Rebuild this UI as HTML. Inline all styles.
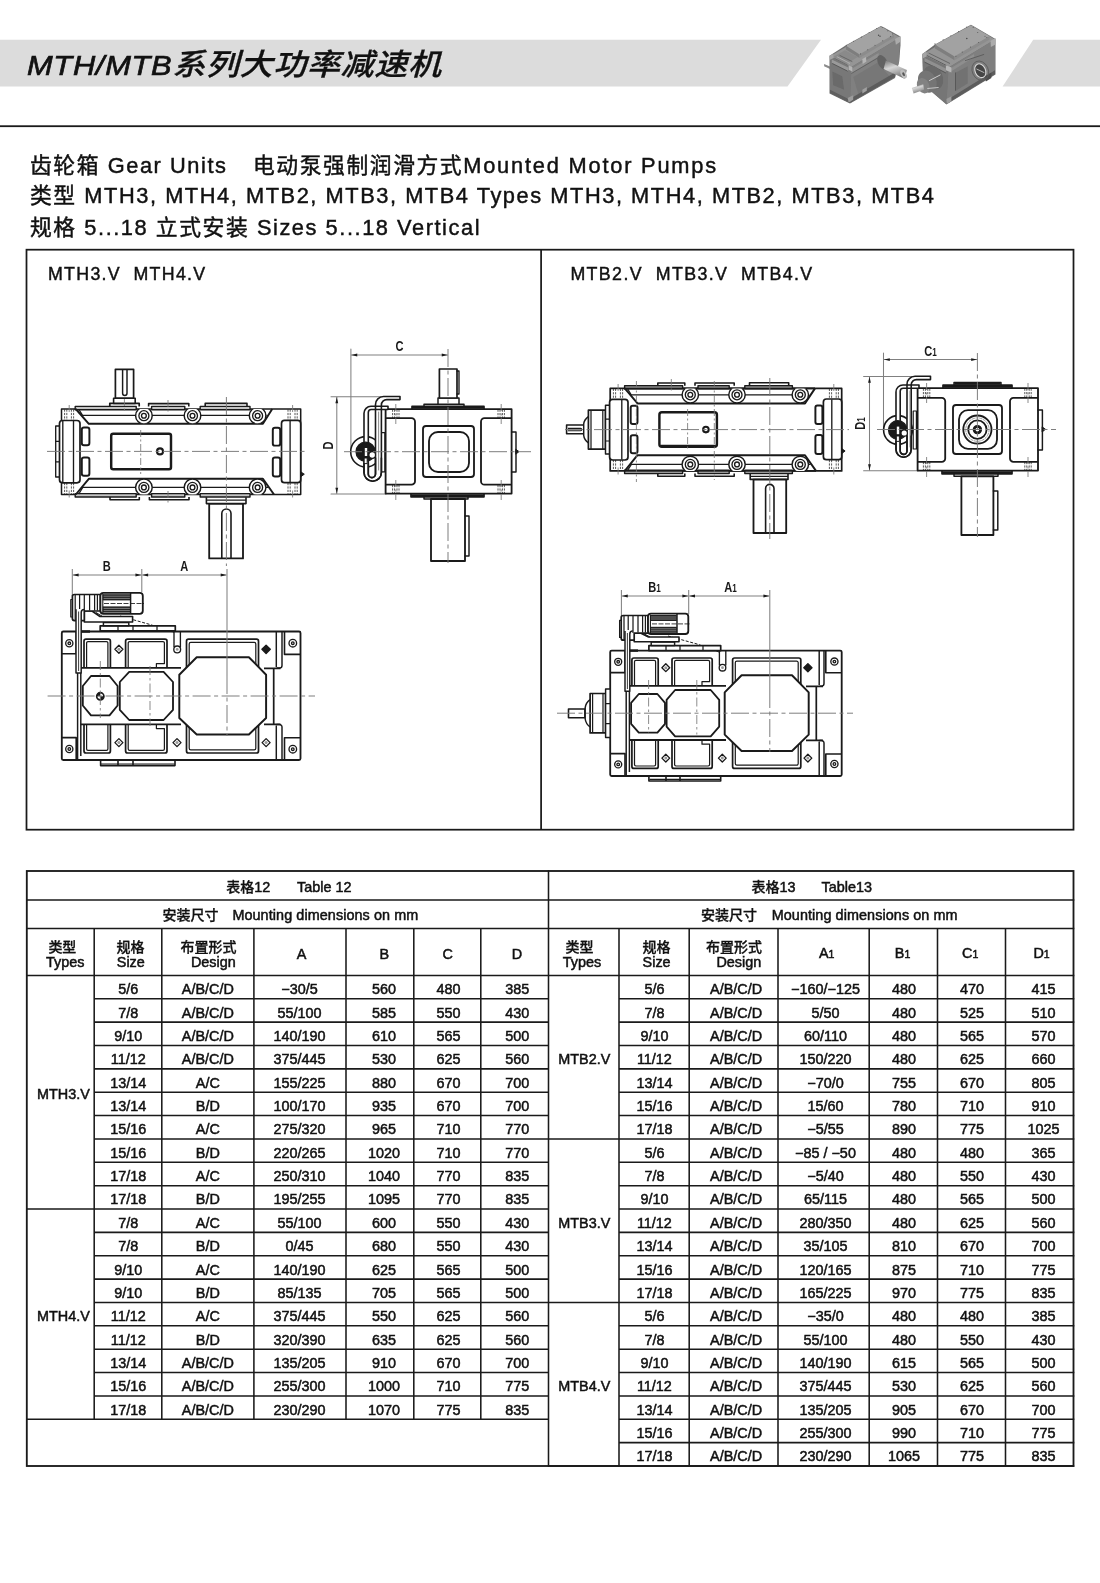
<!DOCTYPE html>
<html lang="zh"><head><meta charset="utf-8"><title>MTH/MTB系列大功率减速机</title>
<style>
html,body{margin:0;padding:0;background:#fff;}
body{width:1100px;height:1583px;overflow:hidden;font-family:"Liberation Sans","Noto Sans CJK SC",sans-serif;color:#1a1a1a;}
#page{position:relative;width:1100px;height:1583px;overflow:hidden;will-change:transform;}
.abs{position:absolute;white-space:pre;}
#band{position:absolute;left:0;top:0;}
#title{position:absolute;left:26.8px;top:43.6px;height:36px;line-height:36px;font-style:italic;white-space:pre;transform-origin:0 50%;transform:scaleX(1.1);color:#111;-webkit-text-stroke:0.7px #111;}
#title .la{font-size:28px;letter-spacing:0.65px;font-family:"Liberation Sans",sans-serif;}
#title .cj2{font-size:30px;letter-spacing:0.6px;font-family:"Noto Sans CJK SC",sans-serif;font-weight:500;-webkit-text-stroke:0.3px #111;position:relative;top:0.5px;}
.hl{position:absolute;left:30px;font-size:21.8px;line-height:30px;white-space:pre;color:#111;letter-spacing:1.56px;font-weight:400;-webkit-text-stroke:0.45px #111;}
#dwg{position:absolute;left:0;top:240px;overflow:visible;}
#dwg text{font-family:"Liberation Sans",sans-serif;fill:#1a1a1a;}
.t{position:absolute;font-size:14.4px;line-height:16px;white-space:pre;text-align:center;color:#111;font-family:"Liberation Sans","Noto Sans CJK SC",sans-serif;-webkit-text-stroke:0.5px #111;}
.ln{position:absolute;background:#1a1a1a;}
.cj{font-size:14px;font-weight:500;-webkit-text-stroke:0.3px #111;}
.lbl{position:absolute;top:263.5px;font-size:17.8px;line-height:20px;letter-spacing:1.3px;white-space:pre;font-family:"Liberation Sans",sans-serif;color:#111;-webkit-text-stroke:0.45px #111;}

</style></head>
<body>
<div id="page">
<svg id="band" width="1100" height="130" viewBox="0 0 1100 130">
<polygon points="0,39.7 821,39.7 787.5,86.4 0,86.4" fill="#dcdcdc"/>
<polygon points="1033.2,39.7 1100,39.7 1100,86.4 1002.6,86.4" fill="#dcdcdc"/>
<rect x="0" y="125.3" width="1100" height="1.8" fill="#1a1a1a"/>
</svg>
<div id="title"><span class="la">MTH/MTB</span><span class="cj2">系列大功率减速机</span></div>
<div class="hl" style="top:150.8px">齿轮箱 Gear Units   <span style="margin-left:2.7px">电动泵强制润滑方式</span><span style="letter-spacing:1.8px">Mounted Motor Pumps</span></div>
<div class="hl" style="top:181.4px">类型 MTH3, MTH4, MTB2, MTB3, MTB4 Types MTH3, MTH4, MTB2, MTB3, MTB4</div>
<div class="hl" style="top:212.8px">规格 5...18 立式安装 Sizes 5...18 Vertical</div>
<div class="lbl" style="left:48px">MTH3.V  MTH4.V</div>
<div class="lbl" style="left:570.4px;letter-spacing:1.4px">MTB2.V  MTB3.V  MTB4.V</div>
<svg id="gb" width="200" height="100" viewBox="815 15 200 100" style="position:absolute;left:815px;top:15px">
<defs><linearGradient id="sh1" x1="0.3" y1="0" x2="0.7" y2="1"><stop offset="0" stop-color="#8a8a8a"/><stop offset="0.35" stop-color="#d6d6d6"/><stop offset="0.6" stop-color="#b0b0b0"/><stop offset="1" stop-color="#6a6a6a"/></linearGradient><filter id="bl" x="-5%" y="-5%" width="110%" height="110%"><feGaussianBlur stdDeviation="0.4"/></filter></defs>
<g filter="url(#bl)">
<polygon points="824.1,63.9 830.0,66.6 830.0,68.9 824.1,66.2" fill="#8c8c8c" />
<polygon points="829.5,55.7 845.9,45.3 880.9,26.0 884.1,27.5 900.5,36.6 900.5,45.3 899.1,61.6 895.0,78.0 850.0,103.5 846.8,102.1 829.5,93.5" fill="#6f6f6f" />
<polygon points="830.0,56.2 880.9,26.6 900.0,37.5 851.4,67.1" fill="#959595" />
<polygon points="845.9,45.7 880.9,26.4 894.1,34.4 859.5,54.4" fill="#a3a3a3" />
<polygon points="845.9,45.7 859.5,54.4 859.5,58.0 845.9,49.4" fill="#7e7e7e" />
<polygon points="859.5,54.4 894.1,34.4 894.1,37.5 859.5,58.0" fill="#8c8c8c" />
<polygon points="833.2,57.1 845.0,50.3 857.7,57.1 846.4,63.9" fill="#8a8a8a" />
<path d="M834.5 58.5L847.7 65.3" stroke="#5c5c5c" stroke-width="0.9" fill="none"/>
<path d="M836.8 56.6L850.0 63.5" stroke="#b8b8b8" stroke-width="0.8" fill="none"/>
<path d="M839.5 55.3L852.3 61.6" stroke="#5c5c5c" stroke-width="0.8" fill="none"/>
<polygon points="830.0,56.2 851.4,67.1 850.0,103.0 830.0,93.0" fill="#787878" />
<polygon points="831.8,59.4 848.2,67.5 848.2,71.2 831.8,63.0" fill="#9a9a9a" />
<path d="M832.3 63.5L847.7 71.2" stroke="#555" stroke-width="0.9" fill="none"/>
<polygon points="832.3,71.6 842.3,76.2 844.1,89.8 833.2,85.3" fill="#6a6a6a" />
<polygon points="830.0,89.8 850.0,99.8 850.0,103.0 830.0,93.0" fill="#5e5e5e" />
<polygon points="851.4,67.1 900.0,37.5 899.1,61.6 895.0,77.1 850.0,103.0" fill="#808080" />
<polygon points="851.4,68.9 878.6,53.0 878.6,56.6 851.4,73.0" fill="#909090" />
<path d="M851.4 73.5L877.7 58.0" stroke="#5a5a5a" stroke-width="0.8" fill="none"/>
<polygon points="853.2,77.1 877.7,62.5 889.5,76.2 858.6,95.3" fill="#777" />
<polygon points="851.4,98.0 895.0,72.5 895.0,77.1 850.0,103.0" fill="#5c5c5c" />
<polygon points="862.3,89.8 866.8,87.1 866.8,90.7 862.3,93.5" fill="#a0a0a0" />
<polygon points="862.3,58.9 865.9,57.1 866.4,61.6 862.7,63.9" fill="#b5b5b5" />
<polygon points="848.6,65.3 852.3,67.1 852.3,71.6 848.6,69.8" fill="#b4b4b4" />
<polygon points="895.0,38.9 900.0,36.2 900.0,42.1 895.9,44.8" fill="#ababab" />
<polygon points="847.7,98.0 853.2,95.3 853.2,99.8 848.6,102.5" fill="#9c9c9c" />
<polygon points="829.5,55.7 833.2,53.9 833.6,58.0 830.0,59.8" fill="#a5a5a5" />
<circle cx="846.4" cy="45.3" r="0.55" fill="#5a5a5a"/><circle cx="853.6" cy="41.2" r="0.55" fill="#5a5a5a"/><circle cx="861.4" cy="37.1" r="0.55" fill="#5a5a5a"/><circle cx="869.1" cy="32.5" r="0.55" fill="#5a5a5a"/><circle cx="876.8" cy="28.5" r="0.55" fill="#5a5a5a"/><circle cx="882.3" cy="27.5" r="0.55" fill="#5a5a5a"/><circle cx="887.7" cy="30.7" r="0.55" fill="#5a5a5a"/><circle cx="892.7" cy="33.9" r="0.55" fill="#5a5a5a"/><circle cx="860.5" cy="53.9" r="0.55" fill="#5a5a5a"/><circle cx="867.7" cy="49.8" r="0.55" fill="#5a5a5a"/><circle cx="875.0" cy="45.3" r="0.55" fill="#5a5a5a"/><circle cx="882.7" cy="40.7" r="0.55" fill="#5a5a5a"/><circle cx="890.5" cy="36.6" r="0.55" fill="#5a5a5a"/>
<circle cx="878.6" cy="35.3" r="0.7" fill="#4a4a4a"/><circle cx="880.0" cy="36.2" r="0.7" fill="#4a4a4a"/>
<ellipse cx="882.7" cy="62.5" rx="4.6" ry="8" fill="#626262" transform="rotate(-28 882.7 62.5)" />
<polygon points="885.9,60.5 907.0,70.0 904.5,78.7 883.6,68.9" fill="url(#sh1)" />
<ellipse cx="903.6" cy="74.2" rx="2.7" ry="4.7" fill="#bdbdbd" transform="rotate(-28 903.6 74.2)" />
<ellipse cx="903.6" cy="74.2" rx="1.1" ry="2" fill="#555" transform="rotate(-28 903.6 74.2)" />
<polygon points="922.3,53.9 935.0,44.4 970.9,24.8 974.1,26.6 995.5,38.9 995.5,74.4 946.4,104.4 944.1,102.5 923.2,84.4" fill="#6e6e6e" />
<polygon points="922.7,54.4 970.9,25.3 995.0,39.4 948.6,67.5" fill="#959595" />
<polygon points="935.0,44.8 970.9,25.5 989.5,36.2 954.5,56.6" fill="#a2a2a2" />
<polygon points="935.0,44.8 954.5,56.6 954.5,60.3 935.0,48.5" fill="#7e7e7e" />
<polygon points="954.5,56.6 989.5,36.2 989.5,39.4 954.5,60.3" fill="#8c8c8c" />
<path d="M925.5 54.8L946.8 65.7" stroke="#5a5a5a" stroke-width="0.9" fill="none"/>
<path d="M928.6 53.0L950.0 63.5" stroke="#5a5a5a" stroke-width="0.8" fill="none"/>
<polygon points="922.7,54.4 948.6,67.5 946.4,103.9 923.2,84.4" fill="#767676" />
<polygon points="924.5,58.0 945.9,68.5 945.9,72.5 924.5,61.6" fill="#909090" />
<path d="M924.5 62.1L945.9 73.0" stroke="#555" stroke-width="0.9" fill="none"/>
<polygon points="948.6,67.5 995.0,39.4 995.0,73.5 946.4,103.9" fill="#7f7f7f" />
<polygon points="948.6,69.4 974.1,53.9 974.1,57.1 948.6,73.0" fill="#8e8e8e" />
<path d="M965.0 60.7L984.1 54.4" stroke="#555" stroke-width="0.8" fill="none"/>
<polygon points="955.9,72.5 967.7,66.2 967.7,83.5 955.9,90.7" fill="#727272" />
<path d="M955.5 72.5L955.5 90.7" stroke="#4f4f4f" stroke-width="0.8" fill="none"/>
<polygon points="947.7,99.4 995.0,70.3 995.0,73.9 946.4,103.9" fill="#5c5c5c" />
<polygon points="945.9,65.3 951.4,67.5 951.4,72.5 945.9,70.3" fill="#b8b8b8" />
<polygon points="990.5,40.7 995.5,38.0 995.5,44.4 990.9,47.1" fill="#adadad" />
<polygon points="946.4,98.9 951.4,96.2 951.4,101.2 946.8,103.9" fill="#9c9c9c" />
<polygon points="922.3,53.9 926.4,51.6 926.8,56.2 922.7,58.5" fill="#a5a5a5" />
<polygon points="985.0,76.2 991.4,72.5 991.4,78.0 985.9,81.6" fill="#4c4c4c" />
<circle cx="935.0" cy="43.9" r="0.55" fill="#5a5a5a"/><circle cx="943.2" cy="39.8" r="0.55" fill="#5a5a5a"/><circle cx="950.9" cy="35.7" r="0.55" fill="#5a5a5a"/><circle cx="958.6" cy="31.6" r="0.55" fill="#5a5a5a"/><circle cx="966.8" cy="27.1" r="0.55" fill="#5a5a5a"/><circle cx="973.2" cy="27.5" r="0.55" fill="#5a5a5a"/><circle cx="977.7" cy="32.5" r="0.55" fill="#5a5a5a"/><circle cx="985.0" cy="36.2" r="0.55" fill="#5a5a5a"/><circle cx="955.9" cy="56.2" r="0.55" fill="#5a5a5a"/><circle cx="962.3" cy="52.1" r="0.55" fill="#5a5a5a"/><circle cx="970.5" cy="47.1" r="0.55" fill="#5a5a5a"/><circle cx="978.6" cy="42.5" r="0.55" fill="#5a5a5a"/><circle cx="986.8" cy="37.5" r="0.55" fill="#5a5a5a"/>
<circle cx="966.8" cy="38.5" r="0.8" fill="#4a4a4a"/>
<ellipse cx="980.3" cy="70.7" rx="5.2" ry="7.2" fill="#454545" transform="rotate(-25 980.3 70.7)" stroke="#d8d8d8" stroke-width="1.1"/>
<path d="M976.4 68.9L984.3 72.7" stroke="#d0d0d0" stroke-width="0.8" fill="none"/>
<ellipse cx="980.3" cy="70.7" rx="8" ry="10" fill="none" transform="rotate(-25 980.3 70.7)" stroke="#5a5a5a" stroke-width="0.8"/>
<ellipse cx="933.2" cy="77.5" rx="9.5" ry="12.5" fill="#696969" transform="rotate(-25 933.2 77.5)" />
<ellipse cx="927.3" cy="81.6" rx="9" ry="11.5" fill="#747474" transform="rotate(-25 927.3 81.6)" />
<ellipse cx="923.2" cy="85.7" rx="6" ry="8" fill="#828282" transform="rotate(-25 923.2 85.7)" />
<path d="M929.1 80.7L940.5 74.8" stroke="#d6d6d6" stroke-width="0.9" fill="none"/>
<path d="M927.3 88.5L938.6 87.5" stroke="#cfcfcf" stroke-width="0.9" fill="none"/>
<polygon points="911.8,88.0 923.2,84.2 924.1,89.8 913.6,93.6" fill="url(#sh1)" />
</g></svg>

<svg id="dwg" width="1100" height="620" viewBox="0 240 1100 620">
<!-- d0 -->
<g id="frame" fill="none" stroke="#1a1a1a" stroke-width="1.75">
<rect x="26.5" y="249.7" width="1047" height="580"/>
<path d="M541.1 249.7V829.7"/>
</g>

<!-- d1 -->
<defs>
<clipPath id="d1ct"><rect x="60" y="409" width="242" height="14.8"/></clipPath>
<clipPath id="d1cb"><rect x="60" y="479" width="242" height="15.5"/></clipPath>
</defs>
<g id="d1" fill="none" stroke="#1a1a1a" stroke-width="1.52" stroke-linejoin="round">
<!-- body -->
<rect x="61.5" y="409" width="239.2" height="85.5" fill="#fff"/>
<!-- top flange plate and pads -->
<g fill="#c4c4c4" stroke-width="1.40">
<rect x="75.2" y="406.4" width="61" height="3.4"/><rect x="151.6" y="406.4" width="33.2" height="3.4"/><rect x="200.2" y="406.4" width="49.8" height="3.4"/>
<rect x="75.2" y="493.6" width="61" height="3.4"/><rect x="151.6" y="493.6" width="33.2" height="3.4"/><rect x="200.2" y="493.6" width="49.8" height="3.4"/>
</g>
<path d="M148.6 406.4V403.6H188.8V406.4M205.2 406.4V403.4H247V406.4" stroke-width="1.59"/>
<path d="M110 497V499.7H139.3V497M149.4 497V499.7H189V497" stroke-width="1.59"/>
<!-- inner rails top -->
<path d="M75.8 409L88.8 423.8H262.9L272.2 409" stroke-width="1.95"/>
<path d="M78.8 409.4L82.6 415.4H266.5" stroke-width="1.22"/>
<!-- inner rails bottom -->
<path d="M75.8 494.5L88.8 478.8H262.9L274 494.5" stroke-width="1.95"/>
<path d="M78.8 494L82.8 487.4H268" stroke-width="1.22"/>
<!-- bolts top -->
<g clip-path="url(#d1ct)" fill="#fff" stroke-width="1.46">
<circle cx="143.9" cy="415.7" r="8.3"/><circle cx="192.5" cy="415.7" r="8.3"/><circle cx="257.6" cy="415.7" r="8.3"/>
</g>
<g clip-path="url(#d1cb)" fill="#fff" stroke-width="1.46">
<circle cx="143.9" cy="487.4" r="8.3"/><circle cx="192.5" cy="487.4" r="8.3"/><circle cx="257.6" cy="487.4" r="8.3"/>
</g>
<g stroke-width="1.34">
<circle cx="143.9" cy="415.7" r="5"/><circle cx="143.9" cy="415.7" r="2.4"/>
<circle cx="192.5" cy="415.7" r="5"/><circle cx="192.5" cy="415.7" r="2.4"/>
<circle cx="257.6" cy="415.7" r="5"/><circle cx="257.6" cy="415.7" r="2.4"/>
<circle cx="143.9" cy="487.4" r="5"/><circle cx="143.9" cy="487.4" r="2.4"/>
<circle cx="192.5" cy="487.4" r="5"/><circle cx="192.5" cy="487.4" r="2.4"/>
<circle cx="257.6" cy="487.4" r="5"/><circle cx="257.6" cy="487.4" r="2.4"/>
</g>
<!-- notch between pads -->
<!-- left end cap -->
<rect x="55.7" y="426" width="4" height="51" fill="#fff" stroke-width="1.34"/>
<path d="M55.7 441.4h4M55.7 461.8h4" stroke-width="1.22"/>
<rect x="59.5" y="420.5" width="20.5" height="62.3" rx="3" fill="#fff" stroke-width="1.71"/>
<path d="M62.8 421V482.4M73.5 421V482.4" stroke-width="1.34"/>
<rect x="81.8" y="427.5" width="7.6" height="17.8" rx="2.2" stroke-width="1.95"/>
<rect x="81.8" y="457.4" width="7.6" height="18.4" rx="2.2" stroke-width="1.95"/>
<!-- right end cap -->
<rect x="281.5" y="420.4" width="19.2" height="62.3" rx="3" fill="#fff" stroke-width="1.71"/>
<path d="M290.1 421V482.4" stroke-width="1.34"/>
<rect x="272.8" y="427.7" width="7.4" height="17.9" rx="2.2" stroke-width="1.95"/>
<rect x="272.8" y="457.5" width="7.4" height="19" rx="2.2" stroke-width="1.95"/>
<path d="M300.7 471.8l3.6 2.4l-3.6 2.6z" fill="#1a1a1a" stroke-width="0.98"/>
<!-- hidden lines at corners -->
<g stroke-width="0.73" stroke-dasharray="2.2 1.2">
<path d="M64.6 409.5V420.5M66.8 409.5V420.5M71.4 409.5V420.5M73.6 409.5V420.5"/>
<path d="M64.6 483V494M66.8 483V494M71.4 483V494M73.6 483V494"/>
<path d="M288 409.5V420.5M290.2 409.5V420.5M295 409.5V420.5M297.2 409.5V420.5"/>
<path d="M288 483V494M290.2 483V494M295 483V494M297.2 483V494"/>
</g>
<!-- inspection cover -->
<rect x="111.2" y="433.8" width="59.8" height="35.4" rx="2" stroke-width="2.44"/>
<circle cx="160" cy="451.4" r="3" stroke-width="2.07"/>
<!-- small top shaft -->
<path d="M109.8 406.6V403.4H139.2V406.6" stroke-width="1.71"/>
<rect x="113.6" y="398.2" width="21.6" height="5.2" fill="#fff" stroke-width="1.59"/>
<rect x="115.4" y="369.3" width="18.2" height="28.9" fill="#fff" stroke-width="1.71"/>
<path d="M122.6 370V393.2a2.2 2.2 0 0 0 4.4 0V370" stroke-width="1.46"/>
<!-- big bottom shaft -->
<path d="M206.4 497.2V503.6H246V497.2" stroke-width="1.59"/>
<path d="M206.4 500.2H246" stroke-width="1.22"/>
<rect x="209.2" y="503.8" width="33.8" height="54.6" fill="#fff" stroke-width="1.83"/>
<path d="M221.8 558.2V513.6a4.6 4.6 0 0 1 9.2 0V558.2" stroke-width="1.59"/>
<!-- center lines -->
<g stroke="#777" stroke-width="0.95" stroke-dasharray="18 3.5 4 3.5">
<path d="M47 451.4H308"/>
<path d="M226.4 397V566"/>
</g>
<g stroke="#777" stroke-width="0.85" stroke-dasharray="7 2.5 2 2.5">
<path d="M140.7 430V474"/>
<path d="M124.4 399V412"/>
<path d="M168 400V413M168 491V504"/>
<path d="M69.2 405V413M69.2 490.5V499M292.6 405V413M292.6 490.5V499"/>
</g>
</g>

<!-- d2 -->
<defs>
<marker id="arr" viewBox="0 0 10 6" refX="10" refY="3" markerWidth="6.6" markerHeight="3.5" orient="auto-start-reverse" markerUnits="userSpaceOnUse"><path d="M0 0.6L10 3L0 5.4z" fill="#1a1a1a" stroke="none"/></marker>
</defs>
<g id="d2" fill="none" stroke="#1a1a1a" stroke-width="1.59" stroke-linejoin="round" stroke-linecap="round">
<!-- dimension lines -->
<g stroke="#808080" stroke-width="1.04">
<path d="M350.9 349V452"/>
<path d="M351.4 355H447.6" marker-start="url(#arr)" marker-end="url(#arr)"/>
<path d="M331 396.8H383M331 494.1H386"/>
<path d="M336.8 397.3V493.6" marker-start="url(#arr)" marker-end="url(#arr)"/>
</g>
<!-- body -->
<rect x="385.6" y="409.2" width="126" height="84.4" fill="#fff" stroke-width="1.83"/>
<!-- top flanges & shaft -->
<path d="M412 409V406.4H484V409" stroke-width="1.71"/>
<path d="M424 406.4V404.2H464V406.4" stroke-width="1.46"/>
<path d="M413 407.8H483" stroke-width="1.95"/>
<rect x="438" y="398" width="21" height="6.2" fill="#fff" stroke-width="1.46"/>
<rect x="439.4" y="369" width="17.6" height="29" fill="#fff" stroke-width="1.71"/>
<path d="M457 371h2v23h-2" stroke-width="1.34"/>
<!-- bottom flanges & shaft -->
<path d="M411 493.8V496.8H484V493.8" stroke-width="1.71"/>
<path d="M412 495.2H483" stroke-width="1.95"/>
<path d="M424 496.8V499H468V496.8" stroke-width="1.46"/>
<rect x="431" y="499" width="34" height="62" fill="#fff" stroke-width="1.83"/>
<path d="M465 516h4v40h-4" stroke-width="1.46"/>
<!-- side panels -->
<path d="M386.5 418.2H411.5a3.5 3.5 0 0 1 3.5 3.5V481.2a3.5 3.5 0 0 1 -3.5 3.5H386.5" stroke-width="1.83"/>
<path d="M510.8 418.2H484.5a3.5 3.5 0 0 0 -3.5 3.5V481.2a3.5 3.5 0 0 0 3.5 3.5H510.8" stroke-width="1.83"/>
<!-- window -->
<rect x="423" y="426" width="51" height="51" rx="3" stroke-width="1.83"/>
<rect x="429" y="432" width="40" height="40" rx="9" stroke-width="1.83"/>
<!-- right cover -->
<path d="M511.6 432h4.4v40h-4.4" stroke-width="1.46"/>
<path d="M516 449.4l3 2.2l-3 2.4z" fill="#1a1a1a" stroke-width="0.98"/>
<!-- hidden bolts -->
<g stroke-width="0.73" stroke-dasharray="2.2 1.2" stroke-linecap="butt">
<path d="M392.6 409.6V418M394.6 409.6V418M397 409.6V418M399 409.6V418"/>
<path d="M392.6 485V493.4M394.6 485V493.4M397 485V493.4M399 485V493.4"/>
<path d="M498 409.6V418M500 409.6V418M502.4 409.6V418M504.4 409.6V418"/>
<path d="M498 485V493.4M500 485V493.4M502.4 485V493.4M504.4 485V493.4"/>
</g>
<!-- pump: plate, circle, pipes -->
<rect x="381.4" y="432.7" width="3.4" height="39.2" fill="#fff" stroke-width="1.22"/>
<circle cx="365.9" cy="451.8" r="15.2" fill="#fff" stroke-width="1.59"/>
<!-- U pipe (drawn as white-filled band) -->
<path d="M400 396.5H383.5a8 8 0 0 0 -8 8V474a3.6 3.6 0 0 1 -7.2 0V412.5a3 3 0 0 1 3 -3H388V406.3H371a7 7 0 0 0 -7 7V472.5a8.7 8.7 0 0 0 17.4 0V405a5.4 5.4 0 0 1 5.4 -5.4H400z" fill="#fff" stroke-width="1.59"/>
<path d="M378.6 412V470" stroke-width="0.85" stroke="#777"/>
<circle cx="365.6" cy="451.8" r="9.6" fill="#1a1a1a" stroke-width="1.22"/>
<rect x="364.8" y="448" width="2.4" height="8" fill="#fff" stroke="none"/>
<rect x="364.4" y="458" width="2.8" height="5.6" fill="#fff" stroke-width="0.98"/>
<circle cx="372.2" cy="455" r="3.3" fill="#fff" stroke-width="1.22"/>
<path d="M364 463.6V472.5a8.7 8.7 0 0 0 17.4 0V458M368.3 463.6V474a3.6 3.6 0 0 0 7.2 0V458" stroke-width="1.59"/>
<!-- center lines -->
<g stroke="#777" stroke-width="0.95" stroke-dasharray="18 3.5 4 3.5" stroke-linecap="butt">
<path d="M344 451.7H531"/>
<path d="M448 349V563"/>
</g>
<g stroke="#777" stroke-width="0.85" stroke-dasharray="7 2.5 2 2.5" stroke-linecap="butt">
<path d="M395.8 404V424M395.8 480V500M501.2 404V424M501.2 480V500"/>
</g>
</g>
<g font-size="15" font-weight="bold">
<text transform="translate(399.6 350.6) scale(0.74 1)" text-anchor="middle">C</text>
<text transform="translate(333 445.5) rotate(-90) scale(0.74 1)" text-anchor="middle">D</text>
</g>

<!-- d3 -->
<g id="d3" fill="none" stroke="#1a1a1a" stroke-width="1.59" stroke-linejoin="round">
<!-- dimension lines -->
<g stroke="#808080" stroke-width="1.04">
<path d="M72.3 569V596M141.8 569V592"/>
<path d="M72.8 575H141.3" marker-start="url(#arr)" marker-end="url(#arr)"/>
<path d="M142.3 575H226.5" marker-start="url(#arr)" marker-end="url(#arr)"/>
</g>
<!-- body -->
<rect x="61.8" y="631.5" width="238.7" height="128.5" rx="1.5" fill="#fff" stroke-width="1.83"/>
<!-- bottom pad -->
<path d="M100.6 760V765.6H175V760M118 760V765.6M133 760V765.6" stroke-width="1.59"/>
<path d="M101 764H174.6" stroke-width="1.22"/>
<!-- corner squares -->
<path d="M61.8 653.8H76.2V631.5M61.8 737.6H76.2V760M300.5 654.4H284.5V631.5M300.5 737.7H284.5V760" stroke-width="1.59"/>
<g stroke-width="1.34"><circle cx="69.3" cy="643.3" r="3.6"/><circle cx="69.3" cy="749" r="3.6"/><circle cx="292.8" cy="643.2" r="3.8"/><circle cx="292.8" cy="749.2" r="3.8"/>
<circle cx="69.3" cy="643.3" r="1.3"/><circle cx="69.3" cy="749" r="1.3"/><circle cx="292.8" cy="643.2" r="1.3"/><circle cx="292.8" cy="749.2" r="1.3"/></g>
<!-- inner frame left verticals -->
<path d="M77.6 631.5V760M80.8 673V756" stroke-width="1.46"/>
<path d="M80.8 667.8H181M80.8 724.4H181" stroke-width="1.83"/>
<!-- right frame -->
<path d="M264 668.4H280.5M264 724.4H280.5M273.7 668.4V724.4" stroke-width="1.71"/>
<path d="M276.3 631.5V667M282 631.5V665.5a2.6 2.6 0 0 1 -2.6 2.6H276.5M276.3 760V725.5M282 760V727a2.6 2.6 0 0 0 -2.6 -2.6H276.5" stroke-width="1.46"/>
<!-- windows top row -->
<g stroke-width="1.71">
<path d="M84 667.8V641.2a2 2 0 0 1 2 -2H108.4a2 2 0 0 1 2 2V667.8"/>
<path d="M86.6 667.8V643a1.4 1.4 0 0 1 1.4 -1.4H106.5a1.4 1.4 0 0 1 1.4 1.4V667.8" stroke-width="1.22"/>
<path d="M125.6 667.8V641.2a2 2 0 0 1 2 -2H165a2 2 0 0 1 2 2V667.8"/>
<path d="M128.2 667.8V643a1.4 1.4 0 0 1 1.4 -1.4H163a1.4 1.4 0 0 1 1.4 1.4V663.6H156.4V667.6" stroke-width="1.22"/>
<path d="M186.5 668V641.2a2 2 0 0 1 2 -2H256.5a2 2 0 0 1 2 2V668"/>
<path d="M189.2 666V644a1.6 1.6 0 0 1 1.6 -1.6H254.2a1.6 1.6 0 0 1 1.6 1.6V666" stroke-width="1.22"/>
</g>
<!-- windows bottom row -->
<g stroke-width="1.71">
<path d="M84 724.4V751a2 2 0 0 0 2 2H108.4a2 2 0 0 0 2 -2V724.4"/>
<path d="M86.6 724.4V749a1.4 1.4 0 0 0 1.4 1.4H106.5a1.4 1.4 0 0 0 1.4 -1.4V724.4" stroke-width="1.22"/>
<path d="M125.6 724.4V751a2 2 0 0 0 2 2H165a2 2 0 0 0 2 -2V724.4"/>
<path d="M128.2 724.4V749a1.4 1.4 0 0 0 1.4 1.4H163a1.4 1.4 0 0 0 1.4 -1.4V728.6H156.4V724.6" stroke-width="1.22"/>
<path d="M186.5 724V751a2 2 0 0 0 2 2H256.5a2 2 0 0 0 2 -2V724"/>
<path d="M189.2 726V748.2a1.6 1.6 0 0 0 1.6 1.6H254.2a1.6 1.6 0 0 0 1.6 -1.6V726" stroke-width="1.22"/>
</g>
<!-- octagons -->
<polygon points="179.3,674.7 196.7,657.3 248.9,657.3 266.1,674.7 266.1,718 248.9,734.5 196.7,734.5 179.3,718" fill="#fff" stroke-width="1.95"/>
<polygon points="119.8,682 129.2,671.8 163.6,671.8 173,682 173,709.8 163.6,720 129.2,720 119.8,709.8" fill="#fff" stroke-width="1.83"/>
<polygon points="82.8,686 91,676 109.5,676 117.6,686 117.6,705.5 109.5,715.4 91,715.4 82.8,705.5" fill="#fff" stroke-width="1.83"/>
<circle cx="100.3" cy="696.3" r="3.6" fill="#fff" stroke-width="1.71"/>
<path d="M100.3 696.3V692.7A3.6 3.6 0 0 0 96.7 696.3zM100.3 696.3V699.9A3.6 3.6 0 0 0 103.9 696.3z" fill="#1a1a1a" stroke="none"/>
<!-- diamonds -->
<g stroke-width="1.34">
<path d="M118.9 645.3l4 4l-4 4l-4 -4z"/><circle cx="118.9" cy="649.3" r="1.5" fill="#999" stroke="none"/>
<path d="M266.1 645.1l4.2 4.2l-4.2 4.2l-4.2 -4.2z" fill="#1a1a1a"/>
<path d="M118.9 738.6l4 4l-4 4l-4 -4z"/><circle cx="118.9" cy="742.6" r="1.5" fill="#999" stroke="none"/>
<path d="M177 738.6l4 4l-4 4l-4 -4z"/><circle cx="177" cy="742.6" r="1.5" fill="#999" stroke="none"/>
<path d="M266.1 738.6l4 4l-4 4l-4 -4z"/><circle cx="266.1" cy="742.6" r="1.5" fill="#999" stroke="none"/>
</g>
<!-- oil pipe to housing -->
<path d="M174 631.5V647M180.4 631.5V647" stroke-width="1.34"/>
<circle cx="177.2" cy="649.4" r="3.4" stroke-width="1.34"/><circle cx="177.2" cy="649.4" r="1.4" fill="#999" stroke="none"/>
<path d="M120 616L150 624.5L173.5 632.5" stroke-width="0.98" stroke-dasharray="3 1.6"/>
<!-- base pads for motor -->
<rect x="100.2" y="625.8" width="75.1" height="5" fill="#fff" stroke-width="1.71"/>
<path d="M118 625.8v5M133 625.8v5M157 625.8v5" stroke-width="1.22"/>
<rect x="103.4" y="622.4" width="25.4" height="3.4" fill="#fff" stroke-width="1.46"/>
<path d="M76.2 631.5H90" stroke-width="2.44"/>
<!-- bracket -->
<path d="M84.3 611V622H132.6V616.5H100L92 611z" fill="#fff" stroke-width="1.59"/>
<path d="M96 612.5l6 3.6" stroke-width="0.98"/>
<!-- pump head -->
<path d="M72.4 596.5a2 2 0 0 1 2 -2H100.4V611H84.3V620.6H74.4a2 2 0 0 1 -2 -2z" fill="#fff" stroke-width="1.71"/>
<path d="M75.2 595V620M79.6 595V609M84.3 595V611M89.6 595V610.5M94.6 595V610.5M97.4 595V610.5" stroke-width="1.22"/>
<path d="M72.4 599.5H70.8V617H72.4" stroke-width="1.22"/>
<!-- vertical pipe from pump -->
<path d="M76 609.3V673H81.2V612.5a3 3 0 0 1 3 -3" stroke-width="1.46" fill="#fff"/>
<path d="M78.6 611.5V671" stroke-width="0.85"/>
<!-- motor -->
<rect x="100.4" y="592.8" width="42.4" height="21" rx="3" fill="#fff" stroke-width="1.83"/>
<rect x="102.8" y="594.2" width="27.6" height="6.2" fill="#222" stroke="none"/>
<rect x="102.8" y="606.4" width="27.6" height="6.2" fill="#222" stroke="none"/>
<g stroke="#ddd" stroke-width="0.49"><path d="M103.4 596.2H130M103.4 598.4H130M103.4 608.4H130M103.4 610.6H130"/></g>
<path d="M102.8 594V613" stroke-width="1.10"/>
<path d="M130.6 593V613.6" stroke-width="1.46"/>
<path d="M104 603.5H144" stroke-width="0.85" stroke-dasharray="5 1.5"/>
<!-- center lines -->
<path d="M227 569V676" stroke="#808080" stroke-width="1.04"/>
<g stroke="#777" stroke-width="0.95" stroke-dasharray="18 3.5 4 3.5">
<path d="M47.6 696H315"/>
<path d="M227 676V736"/>
</g>
<g stroke="#777" stroke-width="0.85" stroke-dasharray="9 3 2.5 3">
<path d="M100.3 661V718M150 666V726"/>
</g>
</g>
<g font-size="15" font-weight="bold">
<text transform="translate(106.7 571.2) scale(0.74 1)" text-anchor="middle">B</text>
<text transform="translate(184.3 571.2) scale(0.74 1)" text-anchor="middle">A</text>
</g>

<!-- d4 -->
<defs>
<clipPath id="d4ct"><rect x="609" y="388.4" width="234" height="15"/></clipPath>
<clipPath id="d4cb"><rect x="609" y="455.2" width="234" height="15.7"/></clipPath>
</defs>
<g id="d4" fill="none" stroke="#1a1a1a" stroke-width="1.52" stroke-linejoin="round">
<rect x="610.2" y="388.4" width="231.5" height="82.5" fill="#fff" stroke-width="1.71"/>
<!-- flange plates & pads -->
<g fill="#c4c4c4" stroke-width="1.40">
<rect x="624.6" y="385.7" width="58" height="3.2"/><rect x="698" y="385.7" width="31.2" height="3.2"/><rect x="744.8" y="385.7" width="47.6" height="3.2"/>
<rect x="624.6" y="470.3" width="58" height="3.2"/><rect x="698" y="470.3" width="31.2" height="3.2"/><rect x="744.8" y="470.3" width="47.6" height="3.2"/>
</g>
<path d="M657.8 385.7V383H684.8V385.7M695 385.7V383H734.2V385.7M749.5 385.7V382.8H788.7V385.7" stroke-width="1.59"/>
<path d="M657.8 473.5V476.2H684.8V473.5M695 473.5V476.2H734.2V473.5" stroke-width="1.59"/>
<!-- rails -->
<path d="M624.8 388.4L637.5 403.4H805L815 388.4" stroke-width="1.95"/>
<path d="M624.8 388.4H815" stroke-width="1.83"/>
<path d="M627.6 388.8L631.2 394.8H809" stroke-width="1.22"/>
<path d="M624.8 470.9L637.5 455.2H805L816 470.9" stroke-width="1.95"/>
<path d="M624.8 470.9H816" stroke-width="1.83"/>
<path d="M627.6 470.4L631.4 464.4H810.5" stroke-width="1.22"/>
<!-- bolts -->
<g clip-path="url(#d4ct)" fill="#fff" stroke-width="1.46">
<circle cx="690.3" cy="394.8" r="8.2"/><circle cx="737" cy="394.8" r="8.2"/><circle cx="800.3" cy="394.8" r="8.2"/>
</g>
<g clip-path="url(#d4cb)" fill="#fff" stroke-width="1.46">
<circle cx="690.3" cy="464.4" r="8.2"/><circle cx="737" cy="464.4" r="8.2"/><circle cx="800.3" cy="464.4" r="8.2"/>
</g>
<g stroke-width="1.34">
<circle cx="690.3" cy="394.8" r="5"/><circle cx="690.3" cy="394.8" r="2.4"/>
<circle cx="737" cy="394.8" r="5"/><circle cx="737" cy="394.8" r="2.4"/>
<circle cx="800.3" cy="394.8" r="5"/><circle cx="800.3" cy="394.8" r="2.4"/>
<circle cx="690.3" cy="464.4" r="5"/><circle cx="690.3" cy="464.4" r="2.4"/>
<circle cx="737" cy="464.4" r="5"/><circle cx="737" cy="464.4" r="2.4"/>
<circle cx="800.3" cy="464.4" r="5"/><circle cx="800.3" cy="464.4" r="2.4"/>
</g>
<!-- input assembly on left -->
<rect x="566.6" y="425" width="17.4" height="8.8" fill="#fff" stroke-width="1.59"/>
<path d="M568 428.4H580.6a1.2 1.2 0 0 1 0 2.4H568" stroke-width="1.10"/>
<path d="M588.4 416.6C585.6 418.6 584 421 583.7 424V435.4C584 438.4 585.6 440.8 588.4 442.8" stroke-width="1.46" fill="#fff"/>
<rect x="588.4" y="410.2" width="17.1" height="38.9" fill="#fff" stroke-width="1.71"/>
<path d="M591 410.4V449M602.8 410.4V449" stroke-width="1.22"/>
<rect x="605.5" y="405.2" width="4.2" height="48.7" fill="#fff" stroke-width="1.46"/>
<path d="M605.5 419.2h4.2M605.5 441h4.2" stroke-width="1.22"/>
<!-- left end cap -->
<rect x="609.6" y="399.3" width="18.4" height="60.7" rx="3" fill="#fff" stroke-width="1.71"/>
<path d="M621.8 399.8V459.6" stroke-width="1.34"/>
<rect x="630.7" y="405.7" width="6.8" height="18.2" rx="2" stroke-width="1.95"/>
<rect x="630.7" y="435.2" width="6.8" height="18" rx="2" stroke-width="1.95"/>
<!-- right end cap -->
<rect x="823.4" y="399" width="18.3" height="60.7" rx="3" fill="#fff" stroke-width="1.71"/>
<path d="M831.8 399.5V459.2" stroke-width="1.34"/>
<rect x="815.4" y="405.5" width="7" height="18.4" rx="2" stroke-width="1.95"/>
<rect x="815.4" y="435" width="7" height="19" rx="2" stroke-width="1.95"/>
<path d="M841.7 448.6l3.4 2.4l-3.4 2.6z" fill="#1a1a1a" stroke-width="0.98"/>
<!-- hidden lines -->
<g stroke-width="0.73" stroke-dasharray="2.2 1.2">
<path d="M613.4 388.8V399.3M615.6 388.8V399.3M620.4 388.8V399.3M622.6 388.8V399.3"/>
<path d="M613.4 460V470.6M615.6 460V470.6M620.4 460V470.6M622.6 460V470.6"/>
<path d="M829.4 388.8V399M831.6 388.8V399M836.2 388.8V399M838.4 388.8V399"/>
<path d="M829.4 460V470.6M831.6 460V470.6M836.2 460V470.6M838.4 460V470.6"/>
</g>
<!-- inspection cover -->
<rect x="659.4" y="412.3" width="57.5" height="34.4" rx="2.5" stroke-width="2.44"/>
<path d="M661 445.4H715.4" stroke-width="1.22"/>
<circle cx="705.9" cy="429.6" r="2.8" stroke-width="2.07"/>
<!-- big bottom shaft -->
<path d="M750.2 473.6V479.4H788V473.6" stroke-width="1.59"/>
<path d="M750.2 476.4H788" stroke-width="1.22"/>
<rect x="753.5" y="479.6" width="32.7" height="53.4" fill="#fff" stroke-width="1.83"/>
<path d="M765.6 532.8V488.6a4.2 4.2 0 0 1 8.4 0V532.8" stroke-width="1.59"/>
<!-- center lines -->
<g stroke="#777" stroke-width="0.95" stroke-dasharray="18 3.5 4 3.5">
<path d="M565 429.6H849"/>
<path d="M769.8 378V539"/>
</g>
<g stroke="#777" stroke-width="0.85" stroke-dasharray="7 2.5 2 2.5">
<path d="M636.4 381V482M714.3 381V480M687.6 409V451"/>
<path d="M671.3 379V391"/>
<path d="M618.1 384V392M618.1 467.5V476M833.8 384V392M833.8 467.5V476"/>
</g>
</g>

<!-- d5 -->
<g id="d5" fill="none" stroke="#1a1a1a" stroke-width="1.59" stroke-linejoin="round" stroke-linecap="round">
<g stroke="#808080" stroke-width="1.04">
<path d="M883.5 353V430"/>
<path d="M884 359.6H977" marker-start="url(#arr)" marker-end="url(#arr)"/>
<path d="M863.6 376.5H914.5M863.6 470.7H918"/>
<path d="M869.5 377V470.2" marker-start="url(#arr)" marker-end="url(#arr)"/>
</g>
<rect x="917.6" y="388.2" width="120.4" height="82.4" fill="#fff" stroke-width="1.83"/>
<!-- top flanges -->
<path d="M943 388V385.2H1012V388" stroke-width="1.71"/>
<path d="M944 386.8H1011" stroke-width="1.95"/>
<path d="M954 385.2V382.6H1001V385.2" stroke-width="1.46"/>
<path d="M955 383.8H1000" stroke-width="1.71"/>
<!-- bottom flanges & shaft -->
<path d="M942 470.8V473.8H1012V470.8" stroke-width="1.71"/>
<path d="M943 472.2H1011" stroke-width="1.95"/>
<path d="M954 473.8V476.2H998V473.8" stroke-width="1.46"/>
<rect x="961.4" y="476.4" width="32" height="58.6" fill="#fff" stroke-width="1.83"/>
<path d="M993.4 491h4.4v39h-4.4" stroke-width="1.46"/>
<!-- side panels -->
<path d="M918.4 397.8H941.8a3.4 3.4 0 0 1 3.4 3.4V458.4a3.4 3.4 0 0 1 -3.4 3.4H918.4" stroke-width="1.83"/>
<path d="M1037.2 397.8H1013.4a3.4 3.4 0 0 0 -3.4 3.4V458.4a3.4 3.4 0 0 0 3.4 3.4H1037.2" stroke-width="1.83"/>
<!-- window -->
<rect x="953" y="405" width="49" height="49" rx="3" stroke-width="1.83"/>
<rect x="959" y="410.2" width="38" height="38.6" rx="9" stroke-width="1.83"/>
<circle cx="977.4" cy="429.6" r="14.1" stroke-width="1.83"/>
<circle cx="977.4" cy="429.6" r="11.7" stroke="#777" stroke-width="0.73" stroke-dasharray="2.4 1.4"/>
<circle cx="977.4" cy="429.6" r="9.2" stroke-width="1.83"/>
<circle cx="977.4" cy="429.6" r="3.3" stroke-width="2.81"/>
<!-- right cover -->
<path d="M1038 410h4.4v40h-4.4" stroke-width="1.46"/>
<path d="M1042.4 427l3 2.3l-3 2.5z" fill="#1a1a1a" stroke-width="0.98"/>
<!-- hidden bolts -->
<g stroke-width="0.73" stroke-dasharray="2.2 1.2" stroke-linecap="butt">
<path d="M923.4 388.6V397.6M925.4 388.6V397.6M927.8 388.6V397.6M929.8 388.6V397.6"/>
<path d="M923.4 462V470.4M925.4 462V470.4M927.8 462V470.4M929.8 462V470.4"/>
<path d="M1024.8 388.6V397.6M1026.8 388.6V397.6M1029.2 388.6V397.6M1031.2 388.6V397.6"/>
<path d="M1024.8 462V470.4M1026.8 462V470.4M1029.2 462V470.4M1031.2 462V470.4"/>
</g>
<!-- pump -->
<rect x="913.2" y="411" width="3.2" height="38" fill="#fff" stroke-width="1.22"/>
<circle cx="898" cy="430" r="14.4" fill="#fff" stroke-width="1.59"/>
<path d="M930.5 376.3H915a8 8 0 0 0 -8 8V451a3.4 3.4 0 0 1 -6.8 0V391.2a3 3 0 0 1 3 -3H919V385H903a7 7 0 0 0 -7 7V449.6a7.6 7.6 0 0 0 15.2 0V384.8a5.2 5.2 0 0 1 5.2 -5.2H930.5z" fill="#fff" stroke-width="1.59"/>
<path d="M910 391V447" stroke-width="0.85" stroke="#777"/>
<circle cx="897.8" cy="430" r="9.3" fill="#1a1a1a" stroke-width="1.22"/>
<rect x="896.8" y="426.6" width="2.4" height="7.6" fill="#fff" stroke="none"/>
<rect x="896.6" y="436" width="2.8" height="5.4" fill="#fff" stroke-width="0.98"/>
<circle cx="904.2" cy="433" r="3.2" fill="#fff" stroke-width="1.22"/>
<path d="M896 441.6V449.6a7.6 7.6 0 0 0 15.2 0V436M900.2 441.6V451a3.4 3.4 0 0 0 6.8 0V436" stroke-width="1.59"/>
<!-- center lines -->
<g stroke="#777" stroke-width="0.95" stroke-dasharray="18 3.5 4 3.5" stroke-linecap="butt">
<path d="M877 429.5H1056"/>
<path d="M977.4 353V537"/>
</g>
<g stroke="#777" stroke-width="0.85" stroke-dasharray="7 2.5 2 2.5" stroke-linecap="butt">
<path d="M926.6 383V403M926.6 457V477M1028 383V403M1028 457V477"/>
</g>
</g>
<g font-size="15" font-weight="bold">
<text transform="translate(930.4 355.6) scale(0.74 1)" text-anchor="middle">C<tspan font-size="11">1</tspan></text>
<text transform="translate(865.4 423.5) rotate(-90) scale(0.74 1)" text-anchor="middle">D<tspan font-size="11">1</tspan></text>
</g>

<!-- d6 -->
<g id="d6" fill="none" stroke="#1a1a1a" stroke-width="1.59" stroke-linejoin="round">
<g stroke="#808080" stroke-width="1.04">
<path d="M621.4 590V616M688.7 590V614"/>
<path d="M621.9 596H688.2" marker-start="url(#arr)" marker-end="url(#arr)"/>
<path d="M689.2 596H769.3" marker-start="url(#arr)" marker-end="url(#arr)"/>
</g>
<!-- body -->
<rect x="610.2" y="650.6" width="231.5" height="125.4" rx="1.5" fill="#fff" stroke-width="1.83"/>
<path d="M648.9 776V781H720.7V776M666 776V781M680 776V781" stroke-width="1.59"/>
<path d="M649.4 779.4H720.2" stroke-width="1.22"/>
<!-- corner squares -->
<path d="M610.2 672.6H625V650.6M610.2 753.6H625V776M841.7 672.7H825.8V650.6M841.7 754H825.8V776" stroke-width="1.59"/>
<g stroke-width="1.34"><circle cx="618.2" cy="661.8" r="3.5"/><circle cx="618.2" cy="764.4" r="3.5"/><circle cx="834.4" cy="661.6" r="3.6"/><circle cx="834.4" cy="764" r="3.6"/>
<circle cx="618.2" cy="661.8" r="1.3"/><circle cx="618.2" cy="764.4" r="1.3"/><circle cx="834.4" cy="661.6" r="1.3"/><circle cx="834.4" cy="764" r="1.3"/></g>
<!-- inner frame -->
<path d="M626.2 650.6V776M629.4 691V772" stroke-width="1.46"/>
<path d="M629.4 685.8H726M629.4 740H726" stroke-width="1.83"/>
<path d="M806 686.3H823M806 740.4H823M816.3 686.3V740.4" stroke-width="1.71"/>
<path d="M819.2 650.6V685M824 650.6V683.6a2.6 2.6 0 0 1 -2.6 2.6H819.4M819.2 776V741.6M824 776V743a2.6 2.6 0 0 0 -2.6 -2.6H819.4" stroke-width="1.46"/>
<!-- windows top -->
<g stroke-width="1.71">
<path d="M631.9 685.8V660a2 2 0 0 1 2 -2H656.2a2 2 0 0 1 2 2V685.8"/>
<path d="M634.5 685.8V661.8a1.4 1.4 0 0 1 1.4 -1.4H654.2a1.4 1.4 0 0 1 1.4 1.4V685.8" stroke-width="1.22"/>
<path d="M672 685.8V660a2 2 0 0 1 2 -2H710.2a2 2 0 0 1 2 2V685.8"/>
<path d="M674.6 685.8V661.8a1.4 1.4 0 0 1 1.4 -1.4H708.2a1.4 1.4 0 0 1 1.4 1.4V681.6H702V685.6" stroke-width="1.22"/>
<path d="M732.6 686V660a2 2 0 0 1 2 -2H798.8a2 2 0 0 1 2 2V686"/>
<path d="M735.3 684V662.8a1.6 1.6 0 0 1 1.6 -1.6H796.6a1.6 1.6 0 0 1 1.6 1.6V684" stroke-width="1.22"/>
</g>
<!-- windows bottom -->
<g stroke-width="1.71">
<path d="M631.9 740V766.4a2 2 0 0 0 2 2H656.2a2 2 0 0 0 2 -2V740"/>
<path d="M634.5 740V764.6a1.4 1.4 0 0 0 1.4 1.4H654.2a1.4 1.4 0 0 0 1.4 -1.4V740" stroke-width="1.22"/>
<path d="M672 740V766.4a2 2 0 0 0 2 2H710.2a2 2 0 0 0 2 -2V740"/>
<path d="M674.6 740V764.6a1.4 1.4 0 0 0 1.4 1.4H708.2a1.4 1.4 0 0 0 1.4 -1.4V744.2H702V740.2" stroke-width="1.22"/>
<path d="M732.6 740V766.4a2 2 0 0 0 2 2H798.8a2 2 0 0 0 2 -2V740"/>
<path d="M735.3 742V763.6a1.6 1.6 0 0 0 1.6 1.6H796.6a1.6 1.6 0 0 0 1.6 -1.6V742" stroke-width="1.22"/>
</g>
<!-- octagons -->
<polygon points="724.7,692.4 741.6,675.2 792,675.2 808.7,692.4 808.7,734.6 792,751 741.6,751 724.7,734.6" fill="#fff" stroke-width="1.95"/>
<polygon points="666.6,699.8 675.1,690 710.7,690 719.2,699.8 719.2,726.6 710.7,736.3 675.1,736.3 666.6,726.6" fill="#fff" stroke-width="1.83"/>
<polygon points="631.1,702.8 638.8,694 657.4,694 665,702.8 665,723.8 657.4,732.6 638.8,732.6 631.1,723.8" fill="#fff" stroke-width="1.83"/>
<!-- diamonds -->
<g stroke-width="1.34">
<path d="M665.8 663.8l3.9 3.9l-3.9 3.9l-3.9 -3.9z"/><circle cx="665.8" cy="667.7" r="1.5" fill="#999" stroke="none"/>
<path d="M807.9 663.6l4.1 4.1l-4.1 4.1l-4.1 -4.1z" fill="#1a1a1a"/>
<path d="M665.8 754.2l3.9 3.9l-3.9 3.9l-3.9 -3.9z"/><circle cx="665.8" cy="758.1" r="1.5" fill="#999" stroke="none"/>
<path d="M722.3 754.2l3.9 3.9l-3.9 3.9l-3.9 -3.9z"/><circle cx="722.3" cy="758.1" r="1.5" fill="#999" stroke="none"/>
<path d="M807.9 754.2l3.9 3.9l-3.9 3.9l-3.9 -3.9z"/><circle cx="807.9" cy="758.1" r="1.5" fill="#999" stroke="none"/>
</g>
<!-- oil pipe -->
<path d="M719.4 650.6V665.4M725.8 650.6V665.4" stroke-width="1.34"/>
<circle cx="722.5" cy="667.7" r="3.3" stroke-width="1.34"/><circle cx="722.5" cy="667.7" r="1.4" fill="#999" stroke="none"/>
<path d="M668 636L697 644L719 652" stroke-width="0.98" stroke-dasharray="3 1.6"/>
<!-- motor base pads -->
<rect x="648.9" y="645.6" width="71.8" height="5" fill="#fff" stroke-width="1.71"/>
<path d="M666 645.6v5M680 645.6v5M703 645.6v5" stroke-width="1.22"/>
<rect x="651.2" y="642" width="23.4" height="3.6" fill="#fff" stroke-width="1.46"/>
<path d="M625 650.6H638" stroke-width="2.44"/>
<!-- bracket -->
<path d="M634.2 633.2V641.7H679V637H648.5L641 633.2z" fill="#fff" stroke-width="1.59"/>
<path d="M644.5 634l5.5 3" stroke-width="0.98"/>
<!-- pump head -->
<path d="M621.2 617.5a2 2 0 0 1 2 -2H648.2V633.2H634.2V640.2H623.2a2 2 0 0 1 -2 -2z" fill="#fff" stroke-width="1.71"/>
<path d="M624 616V640M628.2 616V630M633 616V633M638 616V632.5M642.6 616V632.5M645.4 616V632.5" stroke-width="1.22"/>
<path d="M621.2 620.4H619.6V637.4H621.2" stroke-width="1.22"/>
<!-- vertical pipe -->
<path d="M625 631V691.2H629.8V634a3 3 0 0 1 3 -3" stroke-width="1.46" fill="#fff"/>
<path d="M627.4 633V689" stroke-width="0.85"/>
<!-- motor -->
<rect x="648" y="613.6" width="40.3" height="20.4" rx="3" fill="#fff" stroke-width="1.83"/>
<rect x="650.4" y="615" width="26.4" height="6" fill="#222" stroke="none"/>
<rect x="650.4" y="626.8" width="26.4" height="6" fill="#222" stroke="none"/>
<g stroke="#ddd" stroke-width="0.49"><path d="M651 617H676.4M651 619H676.4M651 628.8H676.4M651 630.8H676.4"/></g>
<path d="M650.4 614.8V633" stroke-width="1.10"/>
<path d="M677 613.8V633.8" stroke-width="1.46"/>
<path d="M652 623.9H690" stroke-width="0.85" stroke-dasharray="5 1.5"/>
<!-- input assembly -->
<rect x="568.5" y="709" width="16.4" height="8.8" fill="#fff" stroke-width="1.59"/>
<path d="M590.1 699.6C587.4 701.6 585.6 704.6 585.2 707.6V719C585.6 722 587.4 725 590.1 727" stroke-width="1.46" fill="#fff"/>
<rect x="590.1" y="693.5" width="15.5" height="39.4" fill="#fff" stroke-width="1.71"/>
<path d="M592.6 693.7V732.7M603 693.7V732.7" stroke-width="1.22"/>
<rect x="605.6" y="688.9" width="4.6" height="48.7" fill="#fff" stroke-width="1.46"/>
<path d="M605.6 703.6h4.6M605.6 723.6h4.6" stroke-width="1.22"/>
<!-- center lines / ext -->
<path d="M769.8 590V690" stroke="#808080" stroke-width="1.04"/>
<g stroke="#777" stroke-width="0.95" stroke-dasharray="18 3.5 4 3.5">
<path d="M557 713.2H853"/>
<path d="M769.8 690V752"/>
</g>
<g stroke="#777" stroke-width="0.85" stroke-dasharray="9 3 2.5 3">
<path d="M648.6 680V733M696.8 680V734.5"/>
</g>
</g>
<g font-size="15" font-weight="bold">
<text transform="translate(654.4 592.4) scale(0.74 1)" text-anchor="middle">B<tspan font-size="11">1</tspan></text>
<text transform="translate(730.4 592.4) scale(0.74 1)" text-anchor="middle">A<tspan font-size="11">1</tspan></text>
</g>

</svg>
<svg id="tlines" width="1100" height="620" viewBox="0 860 1100 620" style="position:absolute;left:0;top:860px"><path d="M26.03 899.90H1074.28M26.03 928.50H1074.28M26.03 975.40H1074.28M548.50 870.23V1466.78M94.20 927.73V976.17M161.80 927.73V976.17M253.90 927.73V976.17M346.00 927.73V976.17M413.80 927.73V976.17M480.80 927.73V976.17M93.42 998.76H549.27M93.42 1022.12H549.27M93.42 1045.49H549.27M93.42 1068.85H549.27M93.42 1092.21H549.27M93.42 1115.57H549.27M93.42 1138.93H549.27M93.42 1162.30H549.27M93.42 1185.66H549.27M26.03 1209.02H549.27M93.42 1232.38H549.27M93.42 1255.74H549.27M93.42 1279.10H549.27M93.42 1302.47H549.27M93.42 1325.83H549.27M93.42 1349.19H549.27M93.42 1372.55H549.27M93.42 1395.91H549.27M26.03 1419.28H549.27M94.20 974.62V1420.05M161.80 974.62V1420.05M253.90 974.62V1420.05M346.00 974.62V1420.05M413.80 974.62V1420.05M480.80 974.62V1420.05M619.00 927.73V976.17M689.20 927.73V976.17M778.00 927.73V976.17M869.20 927.73V976.17M937.50 927.73V976.17M1005.50 927.73V976.17M618.23 998.76H1074.28M618.23 1022.12H1074.28M618.23 1045.49H1074.28M618.23 1068.85H1074.28M618.23 1092.21H1074.28M618.23 1115.57H1074.28M547.73 1138.93H1074.28M618.23 1162.30H1074.28M618.23 1185.66H1074.28M618.23 1209.02H1074.28M618.23 1232.38H1074.28M618.23 1255.74H1074.28M618.23 1279.10H1074.28M547.73 1302.47H1074.28M618.23 1325.83H1074.28M618.23 1349.19H1074.28M618.23 1372.55H1074.28M618.23 1395.91H1074.28M618.23 1419.28H1074.28M618.23 1442.64H1074.28M547.73 1466.00H1074.28M619.00 974.62V1466.78M689.20 974.62V1466.78M778.00 974.62V1466.78M869.20 974.62V1466.78M937.50 974.62V1466.78M1005.50 974.62V1466.78" fill="none" stroke="#1a1a1a" stroke-width="1.55"/><rect x="26.8" y="871.0" width="1046.70" height="595.00" fill="none" stroke="#1a1a1a" stroke-width="1.85"/></svg>
<div id="tbl">
<div class="t" style="left:226.20px;top:878.70px;text-align:left;"><span class="cj">表格</span>12</div>
<div class="t" style="left:297.00px;top:878.70px;text-align:left;">Table 12</div>
<div class="t" style="left:162.60px;top:906.80px;text-align:left;"><span class="cj">安装尺寸</span></div>
<div class="t" style="left:232.40px;top:906.80px;text-align:left;"><span style="letter-spacing:0.08px">Mounting dimensions on mm</span></div>
<div class="t" style="left:28.70px;width:67.40px;top:939.40px;"><span class="cj">类型</span></div>
<div class="t" style="left:31.50px;width:67.40px;top:953.60px;">Types</div>
<div class="t" style="left:96.60px;width:67.60px;top:939.40px;"><span class="cj">规格</span></div>
<div class="t" style="left:97.00px;width:67.60px;top:953.60px;">Size</div>
<div class="t" style="left:162.45px;width:92.10px;top:939.40px;"><span class="cj">布置形式</span></div>
<div class="t" style="left:167.30px;width:92.10px;top:953.60px;">Design</div>
<div class="t" style="left:255.40px;width:92.10px;top:946.05px;">A</div>
<div class="t" style="left:350.50px;width:67.80px;top:946.05px;">B</div>
<div class="t" style="left:414.30px;width:67.00px;top:946.05px;">C</div>
<div class="t" style="left:483.10px;width:67.70px;top:946.05px;">D</div>






<div class="t" style="left:29.70px;width:67.40px;top:1086.31px;">MTH3.V</div>
<div class="t" style="left:94.40px;width:67.60px;top:981.18px;">5/6</div>
<div class="t" style="left:161.80px;width:92.10px;top:981.18px;">A/B/C/D</div>
<div class="t" style="left:253.50px;width:92.10px;top:981.18px;">−30/5</div>
<div class="t" style="left:350.00px;width:67.80px;top:981.18px;">560</div>
<div class="t" style="left:414.90px;width:67.00px;top:981.18px;">480</div>
<div class="t" style="left:483.30px;width:67.70px;top:981.18px;">385</div>

<div class="t" style="left:94.40px;width:67.60px;top:1004.54px;">7/8</div>
<div class="t" style="left:161.80px;width:92.10px;top:1004.54px;">A/B/C/D</div>
<div class="t" style="left:253.50px;width:92.10px;top:1004.54px;">55/100</div>
<div class="t" style="left:350.00px;width:67.80px;top:1004.54px;">585</div>
<div class="t" style="left:414.90px;width:67.00px;top:1004.54px;">550</div>
<div class="t" style="left:483.30px;width:67.70px;top:1004.54px;">430</div>

<div class="t" style="left:94.40px;width:67.60px;top:1027.90px;">9/10</div>
<div class="t" style="left:161.80px;width:92.10px;top:1027.90px;">A/B/C/D</div>
<div class="t" style="left:253.50px;width:92.10px;top:1027.90px;">140/190</div>
<div class="t" style="left:350.00px;width:67.80px;top:1027.90px;">610</div>
<div class="t" style="left:414.90px;width:67.00px;top:1027.90px;">565</div>
<div class="t" style="left:483.30px;width:67.70px;top:1027.90px;">500</div>

<div class="t" style="left:94.40px;width:67.60px;top:1051.27px;">11/12</div>
<div class="t" style="left:161.80px;width:92.10px;top:1051.27px;">A/B/C/D</div>
<div class="t" style="left:253.50px;width:92.10px;top:1051.27px;">375/445</div>
<div class="t" style="left:350.00px;width:67.80px;top:1051.27px;">530</div>
<div class="t" style="left:414.90px;width:67.00px;top:1051.27px;">625</div>
<div class="t" style="left:483.30px;width:67.70px;top:1051.27px;">560</div>

<div class="t" style="left:94.40px;width:67.60px;top:1074.63px;">13/14</div>
<div class="t" style="left:161.80px;width:92.10px;top:1074.63px;">A/C</div>
<div class="t" style="left:253.50px;width:92.10px;top:1074.63px;">155/225</div>
<div class="t" style="left:350.00px;width:67.80px;top:1074.63px;">880</div>
<div class="t" style="left:414.90px;width:67.00px;top:1074.63px;">670</div>
<div class="t" style="left:483.30px;width:67.70px;top:1074.63px;">700</div>

<div class="t" style="left:94.40px;width:67.60px;top:1097.99px;">13/14</div>
<div class="t" style="left:161.80px;width:92.10px;top:1097.99px;">B/D</div>
<div class="t" style="left:253.50px;width:92.10px;top:1097.99px;">100/170</div>
<div class="t" style="left:350.00px;width:67.80px;top:1097.99px;">935</div>
<div class="t" style="left:414.90px;width:67.00px;top:1097.99px;">670</div>
<div class="t" style="left:483.30px;width:67.70px;top:1097.99px;">700</div>

<div class="t" style="left:94.40px;width:67.60px;top:1121.35px;">15/16</div>
<div class="t" style="left:161.80px;width:92.10px;top:1121.35px;">A/C</div>
<div class="t" style="left:253.50px;width:92.10px;top:1121.35px;">275/320</div>
<div class="t" style="left:350.00px;width:67.80px;top:1121.35px;">965</div>
<div class="t" style="left:414.90px;width:67.00px;top:1121.35px;">710</div>
<div class="t" style="left:483.30px;width:67.70px;top:1121.35px;">770</div>

<div class="t" style="left:94.40px;width:67.60px;top:1144.71px;">15/16</div>
<div class="t" style="left:161.80px;width:92.10px;top:1144.71px;">B/D</div>
<div class="t" style="left:253.50px;width:92.10px;top:1144.71px;">220/265</div>
<div class="t" style="left:350.00px;width:67.80px;top:1144.71px;">1020</div>
<div class="t" style="left:414.90px;width:67.00px;top:1144.71px;">710</div>
<div class="t" style="left:483.30px;width:67.70px;top:1144.71px;">770</div>

<div class="t" style="left:94.40px;width:67.60px;top:1168.08px;">17/18</div>
<div class="t" style="left:161.80px;width:92.10px;top:1168.08px;">A/C</div>
<div class="t" style="left:253.50px;width:92.10px;top:1168.08px;">250/310</div>
<div class="t" style="left:350.00px;width:67.80px;top:1168.08px;">1040</div>
<div class="t" style="left:414.90px;width:67.00px;top:1168.08px;">770</div>
<div class="t" style="left:483.30px;width:67.70px;top:1168.08px;">835</div>

<div class="t" style="left:94.40px;width:67.60px;top:1191.44px;">17/18</div>
<div class="t" style="left:161.80px;width:92.10px;top:1191.44px;">B/D</div>
<div class="t" style="left:253.50px;width:92.10px;top:1191.44px;">195/255</div>
<div class="t" style="left:350.00px;width:67.80px;top:1191.44px;">1095</div>
<div class="t" style="left:414.90px;width:67.00px;top:1191.44px;">770</div>
<div class="t" style="left:483.30px;width:67.70px;top:1191.44px;">835</div>

<div class="t" style="left:29.70px;width:67.40px;top:1308.25px;">MTH4.V</div>
<div class="t" style="left:94.40px;width:67.60px;top:1214.80px;">7/8</div>
<div class="t" style="left:161.80px;width:92.10px;top:1214.80px;">A/C</div>
<div class="t" style="left:253.50px;width:92.10px;top:1214.80px;">55/100</div>
<div class="t" style="left:350.00px;width:67.80px;top:1214.80px;">600</div>
<div class="t" style="left:414.90px;width:67.00px;top:1214.80px;">550</div>
<div class="t" style="left:483.30px;width:67.70px;top:1214.80px;">430</div>

<div class="t" style="left:94.40px;width:67.60px;top:1238.16px;">7/8</div>
<div class="t" style="left:161.80px;width:92.10px;top:1238.16px;">B/D</div>
<div class="t" style="left:253.50px;width:92.10px;top:1238.16px;">0/45</div>
<div class="t" style="left:350.00px;width:67.80px;top:1238.16px;">680</div>
<div class="t" style="left:414.90px;width:67.00px;top:1238.16px;">550</div>
<div class="t" style="left:483.30px;width:67.70px;top:1238.16px;">430</div>

<div class="t" style="left:94.40px;width:67.60px;top:1261.52px;">9/10</div>
<div class="t" style="left:161.80px;width:92.10px;top:1261.52px;">A/C</div>
<div class="t" style="left:253.50px;width:92.10px;top:1261.52px;">140/190</div>
<div class="t" style="left:350.00px;width:67.80px;top:1261.52px;">625</div>
<div class="t" style="left:414.90px;width:67.00px;top:1261.52px;">565</div>
<div class="t" style="left:483.30px;width:67.70px;top:1261.52px;">500</div>

<div class="t" style="left:94.40px;width:67.60px;top:1284.89px;">9/10</div>
<div class="t" style="left:161.80px;width:92.10px;top:1284.89px;">B/D</div>
<div class="t" style="left:253.50px;width:92.10px;top:1284.89px;">85/135</div>
<div class="t" style="left:350.00px;width:67.80px;top:1284.89px;">705</div>
<div class="t" style="left:414.90px;width:67.00px;top:1284.89px;">565</div>
<div class="t" style="left:483.30px;width:67.70px;top:1284.89px;">500</div>

<div class="t" style="left:94.40px;width:67.60px;top:1308.25px;">11/12</div>
<div class="t" style="left:161.80px;width:92.10px;top:1308.25px;">A/C</div>
<div class="t" style="left:253.50px;width:92.10px;top:1308.25px;">375/445</div>
<div class="t" style="left:350.00px;width:67.80px;top:1308.25px;">550</div>
<div class="t" style="left:414.90px;width:67.00px;top:1308.25px;">625</div>
<div class="t" style="left:483.30px;width:67.70px;top:1308.25px;">560</div>

<div class="t" style="left:94.40px;width:67.60px;top:1331.61px;">11/12</div>
<div class="t" style="left:161.80px;width:92.10px;top:1331.61px;">B/D</div>
<div class="t" style="left:253.50px;width:92.10px;top:1331.61px;">320/390</div>
<div class="t" style="left:350.00px;width:67.80px;top:1331.61px;">635</div>
<div class="t" style="left:414.90px;width:67.00px;top:1331.61px;">625</div>
<div class="t" style="left:483.30px;width:67.70px;top:1331.61px;">560</div>

<div class="t" style="left:94.40px;width:67.60px;top:1354.97px;">13/14</div>
<div class="t" style="left:161.80px;width:92.10px;top:1354.97px;">A/B/C/D</div>
<div class="t" style="left:253.50px;width:92.10px;top:1354.97px;">135/205</div>
<div class="t" style="left:350.00px;width:67.80px;top:1354.97px;">910</div>
<div class="t" style="left:414.90px;width:67.00px;top:1354.97px;">670</div>
<div class="t" style="left:483.30px;width:67.70px;top:1354.97px;">700</div>

<div class="t" style="left:94.40px;width:67.60px;top:1378.33px;">15/16</div>
<div class="t" style="left:161.80px;width:92.10px;top:1378.33px;">A/B/C/D</div>
<div class="t" style="left:253.50px;width:92.10px;top:1378.33px;">255/300</div>
<div class="t" style="left:350.00px;width:67.80px;top:1378.33px;">1000</div>
<div class="t" style="left:414.90px;width:67.00px;top:1378.33px;">710</div>
<div class="t" style="left:483.30px;width:67.70px;top:1378.33px;">775</div>

<div class="t" style="left:94.40px;width:67.60px;top:1401.70px;">17/18</div>
<div class="t" style="left:161.80px;width:92.10px;top:1401.70px;">A/B/C/D</div>
<div class="t" style="left:253.50px;width:92.10px;top:1401.70px;">230/290</div>
<div class="t" style="left:350.00px;width:67.80px;top:1401.70px;">1070</div>
<div class="t" style="left:414.90px;width:67.00px;top:1401.70px;">775</div>
<div class="t" style="left:483.30px;width:67.70px;top:1401.70px;">835</div>







<div class="t" style="left:751.40px;top:878.70px;text-align:left;"><span class="cj">表格</span>13</div>
<div class="t" style="left:821.60px;top:878.70px;text-align:left;">Table13</div>
<div class="t" style="left:701.00px;top:906.80px;text-align:left;"><span class="cj">安装尺寸</span></div>
<div class="t" style="left:771.70px;top:906.80px;text-align:left;"><span style="letter-spacing:0.08px">Mounting dimensions on mm</span></div>
<div class="t" style="left:544.15px;width:70.50px;top:939.40px;"><span class="cj">类型</span></div>
<div class="t" style="left:546.65px;width:70.50px;top:953.60px;">Types</div>
<div class="t" style="left:621.40px;width:70.20px;top:939.40px;"><span class="cj">规格</span></div>
<div class="t" style="left:621.50px;width:70.20px;top:953.60px;">Size</div>
<div class="t" style="left:689.60px;width:88.80px;top:939.40px;"><span class="cj">布置形式</span></div>
<div class="t" style="left:694.40px;width:88.80px;top:953.60px;">Design</div>
<div class="t" style="left:781.10px;width:91.20px;top:944.75px;">A<span style="font-size:10.5px;position:relative;top:0.5px">1</span></div>
<div class="t" style="left:868.35px;width:68.30px;top:944.75px;">B<span style="font-size:10.5px;position:relative;top:0.5px">1</span></div>
<div class="t" style="left:936.20px;width:68.00px;top:944.75px;">C<span style="font-size:10.5px;position:relative;top:0.5px">1</span></div>
<div class="t" style="left:1007.50px;width:68.00px;top:944.75px;">D<span style="font-size:10.5px;position:relative;top:0.5px">1</span></div>






<div class="t" style="left:549.00px;width:70.50px;top:1051.27px;">MTB2.V</div>
<div class="t" style="left:619.30px;width:70.20px;top:981.18px;">5/6</div>
<div class="t" style="left:691.70px;width:88.80px;top:981.18px;">A/B/C/D</div>
<div class="t" style="left:779.90px;width:91.20px;top:981.18px;">−160/−125</div>
<div class="t" style="left:869.85px;width:68.30px;top:981.18px;">480</div>
<div class="t" style="left:937.90px;width:68.00px;top:981.18px;">470</div>
<div class="t" style="left:1009.60px;width:68.00px;top:981.18px;">415</div>

<div class="t" style="left:619.30px;width:70.20px;top:1004.54px;">7/8</div>
<div class="t" style="left:691.70px;width:88.80px;top:1004.54px;">A/B/C/D</div>
<div class="t" style="left:779.90px;width:91.20px;top:1004.54px;">5/50</div>
<div class="t" style="left:869.85px;width:68.30px;top:1004.54px;">480</div>
<div class="t" style="left:937.90px;width:68.00px;top:1004.54px;">525</div>
<div class="t" style="left:1009.60px;width:68.00px;top:1004.54px;">510</div>

<div class="t" style="left:619.30px;width:70.20px;top:1027.90px;">9/10</div>
<div class="t" style="left:691.70px;width:88.80px;top:1027.90px;">A/B/C/D</div>
<div class="t" style="left:779.90px;width:91.20px;top:1027.90px;">60/110</div>
<div class="t" style="left:869.85px;width:68.30px;top:1027.90px;">480</div>
<div class="t" style="left:937.90px;width:68.00px;top:1027.90px;">565</div>
<div class="t" style="left:1009.60px;width:68.00px;top:1027.90px;">570</div>

<div class="t" style="left:619.30px;width:70.20px;top:1051.27px;">11/12</div>
<div class="t" style="left:691.70px;width:88.80px;top:1051.27px;">A/B/C/D</div>
<div class="t" style="left:779.90px;width:91.20px;top:1051.27px;">150/220</div>
<div class="t" style="left:869.85px;width:68.30px;top:1051.27px;">480</div>
<div class="t" style="left:937.90px;width:68.00px;top:1051.27px;">625</div>
<div class="t" style="left:1009.60px;width:68.00px;top:1051.27px;">660</div>

<div class="t" style="left:619.30px;width:70.20px;top:1074.63px;">13/14</div>
<div class="t" style="left:691.70px;width:88.80px;top:1074.63px;">A/B/C/D</div>
<div class="t" style="left:779.90px;width:91.20px;top:1074.63px;">−70/0</div>
<div class="t" style="left:869.85px;width:68.30px;top:1074.63px;">755</div>
<div class="t" style="left:937.90px;width:68.00px;top:1074.63px;">670</div>
<div class="t" style="left:1009.60px;width:68.00px;top:1074.63px;">805</div>

<div class="t" style="left:619.30px;width:70.20px;top:1097.99px;">15/16</div>
<div class="t" style="left:691.70px;width:88.80px;top:1097.99px;">A/B/C/D</div>
<div class="t" style="left:779.90px;width:91.20px;top:1097.99px;">15/60</div>
<div class="t" style="left:869.85px;width:68.30px;top:1097.99px;">780</div>
<div class="t" style="left:937.90px;width:68.00px;top:1097.99px;">710</div>
<div class="t" style="left:1009.60px;width:68.00px;top:1097.99px;">910</div>

<div class="t" style="left:619.30px;width:70.20px;top:1121.35px;">17/18</div>
<div class="t" style="left:691.70px;width:88.80px;top:1121.35px;">A/B/C/D</div>
<div class="t" style="left:779.90px;width:91.20px;top:1121.35px;">−5/55</div>
<div class="t" style="left:869.85px;width:68.30px;top:1121.35px;">890</div>
<div class="t" style="left:937.90px;width:68.00px;top:1121.35px;">775</div>
<div class="t" style="left:1009.60px;width:68.00px;top:1121.35px;">1025</div>

<div class="t" style="left:549.00px;width:70.50px;top:1214.80px;">MTB3.V</div>
<div class="t" style="left:619.30px;width:70.20px;top:1144.71px;">5/6</div>
<div class="t" style="left:691.70px;width:88.80px;top:1144.71px;">A/B/C/D</div>
<div class="t" style="left:779.90px;width:91.20px;top:1144.71px;">−85 / −50</div>
<div class="t" style="left:869.85px;width:68.30px;top:1144.71px;">480</div>
<div class="t" style="left:937.90px;width:68.00px;top:1144.71px;">480</div>
<div class="t" style="left:1009.60px;width:68.00px;top:1144.71px;">365</div>

<div class="t" style="left:619.30px;width:70.20px;top:1168.08px;">7/8</div>
<div class="t" style="left:691.70px;width:88.80px;top:1168.08px;">A/B/C/D</div>
<div class="t" style="left:779.90px;width:91.20px;top:1168.08px;">−5/40</div>
<div class="t" style="left:869.85px;width:68.30px;top:1168.08px;">480</div>
<div class="t" style="left:937.90px;width:68.00px;top:1168.08px;">550</div>
<div class="t" style="left:1009.60px;width:68.00px;top:1168.08px;">430</div>

<div class="t" style="left:619.30px;width:70.20px;top:1191.44px;">9/10</div>
<div class="t" style="left:691.70px;width:88.80px;top:1191.44px;">A/B/C/D</div>
<div class="t" style="left:779.90px;width:91.20px;top:1191.44px;">65/115</div>
<div class="t" style="left:869.85px;width:68.30px;top:1191.44px;">480</div>
<div class="t" style="left:937.90px;width:68.00px;top:1191.44px;">565</div>
<div class="t" style="left:1009.60px;width:68.00px;top:1191.44px;">500</div>

<div class="t" style="left:619.30px;width:70.20px;top:1214.80px;">11/12</div>
<div class="t" style="left:691.70px;width:88.80px;top:1214.80px;">A/B/C/D</div>
<div class="t" style="left:779.90px;width:91.20px;top:1214.80px;">280/350</div>
<div class="t" style="left:869.85px;width:68.30px;top:1214.80px;">480</div>
<div class="t" style="left:937.90px;width:68.00px;top:1214.80px;">625</div>
<div class="t" style="left:1009.60px;width:68.00px;top:1214.80px;">560</div>

<div class="t" style="left:619.30px;width:70.20px;top:1238.16px;">13/14</div>
<div class="t" style="left:691.70px;width:88.80px;top:1238.16px;">A/B/C/D</div>
<div class="t" style="left:779.90px;width:91.20px;top:1238.16px;">35/105</div>
<div class="t" style="left:869.85px;width:68.30px;top:1238.16px;">810</div>
<div class="t" style="left:937.90px;width:68.00px;top:1238.16px;">670</div>
<div class="t" style="left:1009.60px;width:68.00px;top:1238.16px;">700</div>

<div class="t" style="left:619.30px;width:70.20px;top:1261.52px;">15/16</div>
<div class="t" style="left:691.70px;width:88.80px;top:1261.52px;">A/B/C/D</div>
<div class="t" style="left:779.90px;width:91.20px;top:1261.52px;">120/165</div>
<div class="t" style="left:869.85px;width:68.30px;top:1261.52px;">875</div>
<div class="t" style="left:937.90px;width:68.00px;top:1261.52px;">710</div>
<div class="t" style="left:1009.60px;width:68.00px;top:1261.52px;">775</div>

<div class="t" style="left:619.30px;width:70.20px;top:1284.89px;">17/18</div>
<div class="t" style="left:691.70px;width:88.80px;top:1284.89px;">A/B/C/D</div>
<div class="t" style="left:779.90px;width:91.20px;top:1284.89px;">165/225</div>
<div class="t" style="left:869.85px;width:68.30px;top:1284.89px;">970</div>
<div class="t" style="left:937.90px;width:68.00px;top:1284.89px;">775</div>
<div class="t" style="left:1009.60px;width:68.00px;top:1284.89px;">835</div>

<div class="t" style="left:549.00px;width:70.50px;top:1378.33px;">MTB4.V</div>
<div class="t" style="left:619.30px;width:70.20px;top:1308.25px;">5/6</div>
<div class="t" style="left:691.70px;width:88.80px;top:1308.25px;">A/B/C/D</div>
<div class="t" style="left:779.90px;width:91.20px;top:1308.25px;">−35/0</div>
<div class="t" style="left:869.85px;width:68.30px;top:1308.25px;">480</div>
<div class="t" style="left:937.90px;width:68.00px;top:1308.25px;">480</div>
<div class="t" style="left:1009.60px;width:68.00px;top:1308.25px;">385</div>

<div class="t" style="left:619.30px;width:70.20px;top:1331.61px;">7/8</div>
<div class="t" style="left:691.70px;width:88.80px;top:1331.61px;">A/B/C/D</div>
<div class="t" style="left:779.90px;width:91.20px;top:1331.61px;">55/100</div>
<div class="t" style="left:869.85px;width:68.30px;top:1331.61px;">480</div>
<div class="t" style="left:937.90px;width:68.00px;top:1331.61px;">550</div>
<div class="t" style="left:1009.60px;width:68.00px;top:1331.61px;">430</div>

<div class="t" style="left:619.30px;width:70.20px;top:1354.97px;">9/10</div>
<div class="t" style="left:691.70px;width:88.80px;top:1354.97px;">A/B/C/D</div>
<div class="t" style="left:779.90px;width:91.20px;top:1354.97px;">140/190</div>
<div class="t" style="left:869.85px;width:68.30px;top:1354.97px;">615</div>
<div class="t" style="left:937.90px;width:68.00px;top:1354.97px;">565</div>
<div class="t" style="left:1009.60px;width:68.00px;top:1354.97px;">500</div>

<div class="t" style="left:619.30px;width:70.20px;top:1378.33px;">11/12</div>
<div class="t" style="left:691.70px;width:88.80px;top:1378.33px;">A/B/C/D</div>
<div class="t" style="left:779.90px;width:91.20px;top:1378.33px;">375/445</div>
<div class="t" style="left:869.85px;width:68.30px;top:1378.33px;">530</div>
<div class="t" style="left:937.90px;width:68.00px;top:1378.33px;">625</div>
<div class="t" style="left:1009.60px;width:68.00px;top:1378.33px;">560</div>

<div class="t" style="left:619.30px;width:70.20px;top:1401.70px;">13/14</div>
<div class="t" style="left:691.70px;width:88.80px;top:1401.70px;">A/B/C/D</div>
<div class="t" style="left:779.90px;width:91.20px;top:1401.70px;">135/205</div>
<div class="t" style="left:869.85px;width:68.30px;top:1401.70px;">905</div>
<div class="t" style="left:937.90px;width:68.00px;top:1401.70px;">670</div>
<div class="t" style="left:1009.60px;width:68.00px;top:1401.70px;">700</div>

<div class="t" style="left:619.30px;width:70.20px;top:1425.06px;">15/16</div>
<div class="t" style="left:691.70px;width:88.80px;top:1425.06px;">A/B/C/D</div>
<div class="t" style="left:779.90px;width:91.20px;top:1425.06px;">255/300</div>
<div class="t" style="left:869.85px;width:68.30px;top:1425.06px;">990</div>
<div class="t" style="left:937.90px;width:68.00px;top:1425.06px;">710</div>
<div class="t" style="left:1009.60px;width:68.00px;top:1425.06px;">775</div>

<div class="t" style="left:619.30px;width:70.20px;top:1448.42px;">17/18</div>
<div class="t" style="left:691.70px;width:88.80px;top:1448.42px;">A/B/C/D</div>
<div class="t" style="left:779.90px;width:91.20px;top:1448.42px;">230/290</div>
<div class="t" style="left:869.85px;width:68.30px;top:1448.42px;">1065</div>
<div class="t" style="left:937.90px;width:68.00px;top:1448.42px;">775</div>
<div class="t" style="left:1009.60px;width:68.00px;top:1448.42px;">835</div>







</div>
</div>
</body></html>
